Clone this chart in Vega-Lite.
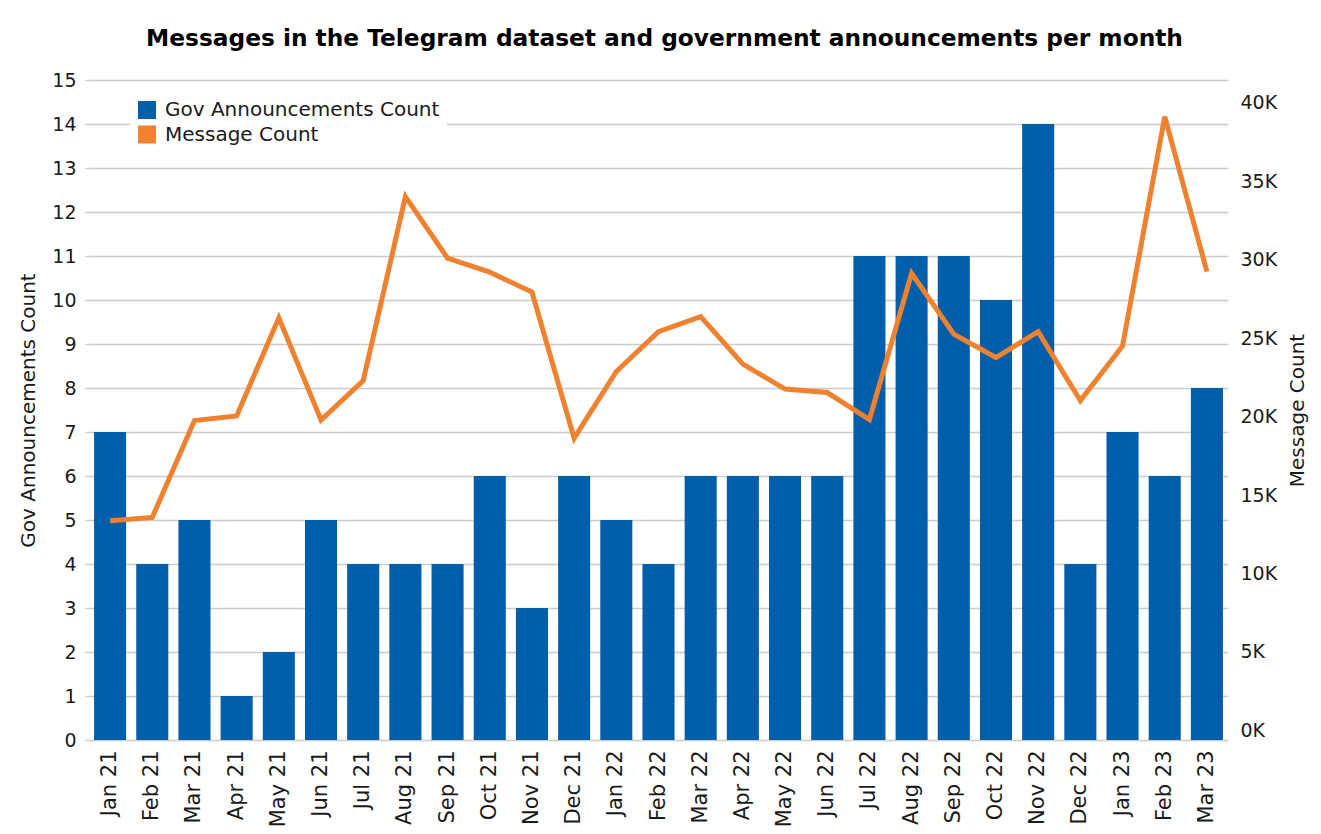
{
  "$schema": "https://vega.github.io/schema/vega-lite/v6.json",
  "autosize": {"type": "none"},
  "padding": {"left": 89, "top": 80, "right": 93, "bottom": 94},
  "width": 1139,
  "height": 660,
  "background": "white",
  "title": {
    "text": "Messages in the Telegram dataset and government announcements per month",
    "font": "DejaVu Sans",
    "fontSize": 23.3,
    "fontWeight": "bold",
    "color": "#000000",
    "anchor": "middle",
    "baseline": "alphabetic",
    "offset": 2,
    "dx": 6
  },
  "config": {
    "view": {"stroke": null},
    "axis": {"labelColor": "#1a1a1a", "titleColor": "#1a1a1a", "titleFontWeight": "normal"}
  },
  "data": {
    "values": [
      {"month": "Jan 21", "gov": 7, "msg": 13360},
      {"month": "Feb 21", "gov": 4, "msg": 13570},
      {"month": "Mar 21", "gov": 5, "msg": 19750},
      {"month": "Apr 21", "gov": 1, "msg": 20040},
      {"month": "May 21", "gov": 2, "msg": 26290},
      {"month": "Jun 21", "gov": 5, "msg": 19780},
      {"month": "Jul 21", "gov": 4, "msg": 22290},
      {"month": "Aug 21", "gov": 4, "msg": 34010},
      {"month": "Sep 21", "gov": 4, "msg": 30090},
      {"month": "Oct 21", "gov": 6, "msg": 29200},
      {"month": "Nov 21", "gov": 3, "msg": 27930},
      {"month": "Dec 21", "gov": 6, "msg": 18620},
      {"month": "Jan 22", "gov": 5, "msg": 22870},
      {"month": "Feb 22", "gov": 4, "msg": 25410},
      {"month": "Mar 22", "gov": 6, "msg": 26370},
      {"month": "Apr 22", "gov": 6, "msg": 23340},
      {"month": "May 22", "gov": 6, "msg": 21750},
      {"month": "Jun 22", "gov": 6, "msg": 21530},
      {"month": "Jul 22", "gov": 11, "msg": 19810},
      {"month": "Aug 22", "gov": 11, "msg": 29130},
      {"month": "Sep 22", "gov": 11, "msg": 25250},
      {"month": "Oct 22", "gov": 10, "msg": 23760},
      {"month": "Nov 22", "gov": 14, "msg": 25410},
      {"month": "Dec 22", "gov": 4, "msg": 21020},
      {"month": "Jan 23", "gov": 7, "msg": 24500},
      {"month": "Feb 23", "gov": 6, "msg": 39110},
      {"month": "Mar 23", "gov": 8, "msg": 29240}
    ]
  },
  "encoding": {
    "x": {
      "field": "month",
      "type": "nominal",
      "sort": null,
      "title": null,
      "scale": {"paddingInner": 0.24, "paddingOuter": 0.12},
      "axis": {
        "labelAngle": -90,
        "labelFont": "DejaVu Sans",
        "labelFontSize": 21,
        "labelPadding": 10,
        "ticks": false,
        "domain": false,
        "grid": false
      }
    }
  },
  "layer": [
    {
      "mark": {"type": "bar"},
      "encoding": {
        "y": {
          "field": "gov",
          "type": "quantitative",
          "title": "Gov Announcements Count",
          "scale": {"domain": [0, 15], "nice": false},
          "axis": {
            "orient": "left",
            "values": [0, 1, 2, 3, 4, 5, 6, 7, 8, 9, 10, 11, 12, 13, 14, 15],
            "domain": false,
            "grid": true,
            "gridColor": "#cccccc",
            "gridWidth": 1.5,
            "ticks": true,
            "tickSize": 4,
            "tickColor": "#cccccc",
            "tickWidth": 1.5,
            "labelFont": "DejaVu Sans",
            "labelFontSize": 19,
            "labelPadding": 9,
            "titleFont": "DejaVu Sans",
            "titleFontSize": 20,
            "titlePadding": 13
          }
        },
        "color": {
          "datum": "Gov Announcements Count",
          "type": "nominal",
          "scale": {
            "domain": ["Gov Announcements Count", "Message Count"],
            "range": ["#005EAA", "#F0812F"]
          },
          "legend": {
            "title": null,
            "orient": "none",
            "legendX": 41,
            "legendY": 13,
            "fillColor": "white",
            "padding": 7,
            "symbolType": "square",
            "symbolSize": 324,
            "symbolStrokeWidth": 0,
            "symbolOpacity": 1,
            "labelFont": "DejaVu Sans",
            "labelFontSize": 20,
            "labelColor": "#1a1a1a",
            "labelLimit": 400,
            "labelOffset": 8,
            "rowPadding": 4.5
          }
        }
      }
    },
    {
      "mark": {"type": "line", "strokeWidth": 5, "strokeJoin": "miter", "strokeCap": "butt"},
      "encoding": {
        "y": {
          "field": "msg",
          "type": "quantitative",
          "title": "Message Count",
          "scale": {"domain": [-611, 41446], "nice": false, "zero": false},
          "axis": {
            "orient": "right",
            "values": [0, 5000, 10000, 15000, 20000, 25000, 30000, 35000, 40000],
            "labelExpr": "(datum.value / 1000) + 'K'",
            "domain": false,
            "grid": false,
            "ticks": false,
            "labelFont": "DejaVu Sans",
            "labelFontSize": 19,
            "labelPadding": 12,
            "titleFont": "DejaVu Sans",
            "titleFontSize": 20,
            "titleAngle": 270,
            "titlePadding": 31
          }
        },
        "color": {"datum": "Message Count", "type": "nominal"}
      }
    }
  ],
  "resolve": {"scale": {"y": "independent"}}
}
